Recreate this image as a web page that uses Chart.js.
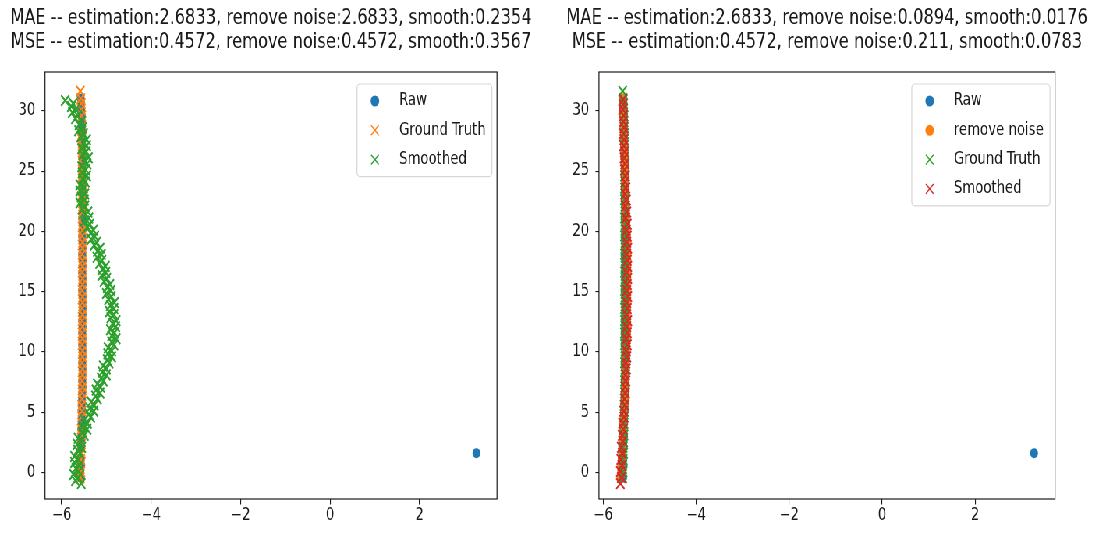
<!DOCTYPE html>
<html>
<head>
<meta charset="utf-8">
<title>Trajectory smoothing</title>
<script src="https://cdn.jsdelivr.net/npm/chart.js@4.4.1/dist/chart.umd.min.js"></script>
<style>
    html, body { margin: 0; padding: 0; background: #fff; overflow: hidden; }
    /* the reference figure is squeezed horizontally, so draw wide and squeeze */
    #figure { position: absolute; left: 0; top: 0; width: 1403px; height: 533px;
              transform: scaleX(0.78); transform-origin: 0 0; }
    .panel { position: absolute; top: 0; height: 533px; }
</style>
</head>
<body>
<div id="figure">
    <div class="panel" style="left:0;width:701px"><canvas id="leftChart" width="701" height="533"></canvas></div>
    <div class="panel" style="left:701px;width:702px"><canvas id="rightChart" width="702" height="533"></canvas></div>
</div>
<script>
// Tick labels
const xTicks = [-6, -4, -2, 0, 2];
const yTicks = [0, 5, 10, 15, 20, 25, 30];

// Titles
const leftTitle = [
    'MAE -- estimation:2.6833, remove noise:2.6833, smooth:0.2354',
    'MSE -- estimation:0.4572, remove noise:0.4572, smooth:0.3567'
];
const rightTitle = [
    'MAE -- estimation:2.6833, remove noise:0.0894, smooth:0.0176',
    'MSE -- estimation:0.4572, remove noise:0.211, smooth:0.0783'
];

// Track positions (y) shared by ground truth, raw and denoised points
const trackY = [
    -0.42, 0.08, 0.61, 1.09, 1.62, 2.11, 2.58, 3.12, 3.61, 4.09,
    4.62, 5.1, 5.58, 6.11, 6.62, 7.09, 7.61, 8.1, 8.58, 9.12,
    9.6, 10.09, 10.62, 11.1, 11.58, 12.11, 12.6, 13.09, 13.62, 14.1,
    14.58, 15.11, 15.6, 16.09, 16.62, 17.1, 17.58, 18.11, 18.6, 19.09,
    19.62, 20.1, 20.58, 21.11, 21.6, 22.09, 22.62, 23.1, 23.58, 24.11,
    24.6, 25.09, 25.62, 26.1, 26.58, 27.11, 27.6, 28.09, 28.62, 29.1,
    29.58, 30.11, 30.6, 31.0, 31.62
];
const gtX = [
    -5.58, -5.57, -5.58, -5.57, -5.56, -5.57, -5.56, -5.55, -5.56, -5.55,
    -5.55, -5.54, -5.55, -5.54, -5.54, -5.53, -5.54, -5.53, -5.53, -5.54,
    -5.53, -5.53, -5.54, -5.53, -5.54, -5.53, -5.54, -5.53, -5.54, -5.53,
    -5.53, -5.54, -5.53, -5.53, -5.54, -5.53, -5.53, -5.54, -5.53, -5.53,
    -5.54, -5.53, -5.53, -5.54, -5.53, -5.53, -5.54, -5.53, -5.54, -5.53,
    -5.54, -5.54, -5.53, -5.54, -5.54, -5.54, -5.55, -5.54, -5.55, -5.55,
    -5.55, -5.56, -5.56, -5.57, -5.58
];
const rawX = [
    -5.57, -5.58, -5.56, -5.57, 3.27, -5.56, -5.56, -5.55, -5.56, -5.55,
    -5.55, -5.54, -5.55, -5.54, -5.54, -5.53, -5.54, -5.53, -5.53, -5.54,
    -5.53, -5.53, -5.54, -5.53, -5.54, -5.53, -5.54, -5.53, -5.52, -5.53,
    -5.53, -5.54, -5.53, -5.53, -5.54, -5.53, -5.53, -5.54, -5.53, -5.53,
    -5.54, -5.53, -5.53, -5.54, -5.53, -5.53, -5.54, -5.53, -5.54, -5.53,
    -5.54, -5.54, -5.53, -5.54, -5.54, -5.54, -5.55, -5.54, -5.55, -5.55,
    -5.55, -5.56, -5.56, -5.57
];
const denoiseX = [
    -5.62, -5.61, -5.61, -5.60, -5.60, -5.59, -5.59, -5.58, -5.57, -5.57,
    -5.56, -5.55, -5.54, -5.54, -5.53, -5.53, -5.52, -5.52, -5.51, -5.51,
    -5.50, -5.50, -5.50, -5.49, -5.49, -5.49, -5.49, -5.49, -5.49, -5.49,
    -5.49, -5.49, -5.49, -5.48, -5.48, -5.48, -5.48, -5.48, -5.49, -5.49,
    -5.49, -5.49, -5.50, -5.50, -5.51, -5.51, -5.52, -5.52, -5.53, -5.53,
    -5.53, -5.54, -5.54, -5.55, -5.55, -5.55, -5.56, -5.56, -5.56, -5.56,
    -5.57, -5.57, -5.57, -5.58
];

// Smoothed track, left panel (denser sampling)
const smoothLeftY = [
    -0.9, -0.65, -0.4, -0.15, 0.1, 0.35, 0.6, 0.85, 1.1, 1.35,
    1.6, 1.85, 2.1, 2.35, 2.6, 2.85, 3.1, 3.35, 3.6, 3.85,
    4.1, 4.35, 4.6, 4.85, 5.1, 5.35, 5.6, 5.85, 6.1, 6.35,
    6.6, 6.85, 7.1, 7.35, 7.6, 7.85, 8.1, 8.35, 8.6, 8.85,
    9.1, 9.35, 9.6, 9.85, 10.1, 10.35, 10.6, 10.85, 11.1, 11.35,
    11.6, 11.85, 12.1, 12.35, 12.6, 12.85, 13.1, 13.35, 13.6, 13.85,
    14.1, 14.35, 14.6, 14.85, 15.1, 15.35, 15.6, 15.85, 16.1, 16.35,
    16.6, 16.85, 17.1, 17.35, 17.6, 17.85, 18.1, 18.35, 18.6, 18.85,
    19.1, 19.35, 19.6, 19.85, 20.1, 20.35, 20.6, 20.85, 21.1, 21.35,
    21.6, 21.85, 22.1, 22.35, 22.6, 22.85, 23.1, 23.35, 23.6, 23.85,
    24.1, 24.35, 24.6, 24.85, 25.1, 25.35, 25.6, 25.85, 26.1, 26.35,
    26.6, 26.85, 27.1, 27.35, 27.6, 27.85, 28.1, 28.35, 28.6, 28.85,
    29.1, 29.35, 29.6, 29.85, 30.1, 30.35, 30.6, 30.85
];
const smoothLeftX = [
    -5.56, -5.69, -5.63, -5.73, -5.62, -5.68, -5.60, -5.71, -5.63, -5.71,
    -5.59, -5.64, -5.55, -5.65, -5.56, -5.63, -5.49, -5.53, -5.43, -5.52,
    -5.42, -5.49, -5.35, -5.39, -5.28, -5.37, -5.27, -5.34, -5.20, -5.24,
    -5.14, -5.23, -5.13, -5.20, -5.07, -5.11, -5.00, -5.09, -5.00, -5.07,
    -4.94, -4.98, -4.88, -4.97, -4.88, -4.96, -4.83, -4.88, -4.78, -4.88,
    -4.82, -4.91, -4.79, -4.86, -4.78, -4.90, -4.83, -4.93, -4.83, -4.91,
    -4.82, -4.95, -4.89, -5.00, -4.90, -4.98, -4.92, -5.05, -4.99, -5.10,
    -5.01, -5.09, -5.02, -5.15, -5.10, -5.21, -5.11, -5.20, -5.14, -5.27,
    -5.22, -5.34, -5.26, -5.35, -5.29, -5.42, -5.37, -5.48, -5.39, -5.47,
    -5.41, -5.54, -5.48, -5.59, -5.49, -5.56, -5.48, -5.59, -5.51, -5.59,
    -5.47, -5.53, -5.44, -5.54, -5.46, -5.55, -5.43, -5.49, -5.40, -5.52,
    -5.45, -5.55, -5.44, -5.51, -5.44, -5.57, -5.51, -5.62, -5.53, -5.61,
    -5.55, -5.69, -5.64, -5.76, -5.68, -5.78, -5.74, -5.92
];

// Smoothed track, right panel
const smoothRightY = [
    -0.9, -0.4, 0.1, 0.6, 1.1, 1.6, 2.1, 2.6, 3.1, 3.6,
    4.1, 4.6, 5.1, 5.6, 6.1, 6.6, 7.1, 7.6, 8.1, 8.6,
    9.1, 9.6, 10.1, 10.6, 11.1, 11.6, 12.1, 12.6, 13.1, 13.6,
    14.1, 14.6, 15.1, 15.6, 16.1, 16.6, 17.1, 17.6, 18.1, 18.6,
    19.1, 19.6, 20.1, 20.6, 21.1, 21.6, 22.1, 22.6, 23.1, 23.6,
    24.1, 24.6, 25.1, 25.6, 26.1, 26.6, 27.1, 27.6, 28.1, 28.6,
    29.1, 29.6, 30.1, 30.5, 30.9
];
const smoothRightX = [
    -5.63, -5.61, -5.63, -5.60, -5.62, -5.59, -5.61, -5.58, -5.59, -5.57,
    -5.58, -5.55, -5.56, -5.53, -5.54, -5.52, -5.53, -5.51, -5.52, -5.50,
    -5.51, -5.49, -5.50, -5.48, -5.50, -5.48, -5.49, -5.47, -5.49, -5.48,
    -5.49, -5.47, -5.49, -5.48, -5.47, -5.49, -5.47, -5.48, -5.49, -5.47,
    -5.49, -5.48, -5.50, -5.48, -5.51, -5.49, -5.52, -5.50, -5.53, -5.51,
    -5.53, -5.52, -5.54, -5.53, -5.55, -5.54, -5.56, -5.55, -5.57, -5.55,
    -5.57, -5.56, -5.58, -5.57, -5.57
];

// matplotlib default colours
const BLUE = '#1f77b4';
const ORANGE = '#ff7f0e';
const GREEN = '#2ca02c';
const RED = '#d62728';
const INK = '#1a1a1a';
const FONT = '"DejaVu Sans", "Liberation Sans", sans-serif';

Chart.defaults.font.family = FONT;

function toPoints(xs, ys) {
    return xs.map((x, i) => ({ x: x, y: ys[i] }));
}

// marker: 'o' (filled circle) or 'x'
function scatterSet(label, xs, ys, color, marker, order) {
    const cross = marker === 'x';
    return {
        label: label,
        data: toPoints(xs, ys),
        order: order,
        marker: marker,
        markerColor: color,
        pointStyle: cross ? 'crossRot' : 'circle',
        pointRadius: cross ? 7.5 : 5,
        pointHoverRadius: cross ? 7.5 : 5,
        pointBackgroundColor: color,
        pointBorderColor: color,
        pointBorderWidth: cross ? 2 : 0,
        showLine: false
    };
}

function drawMarker(ctx, marker, color, x, y) {
    ctx.beginPath();
    if (marker === 'x') {
        const d = 4.95;
        ctx.moveTo(x - d, y - d); ctx.lineTo(x + d, y + d);
        ctx.moveTo(x - d, y + d); ctx.lineTo(x + d, y - d);
        ctx.strokeStyle = color;
        ctx.lineWidth = 1.4;
        ctx.stroke();
    } else {
        ctx.arc(x, y, 5.5, 0, Math.PI * 2);
        ctx.fillStyle = color;
        ctx.fill();
    }
}

// Axes frame, two-line title and matplotlib-like legend
const figurePlugin = {
    id: 'figureDecor',
    afterDraw(chart, args, opts) {
        const ctx = chart.ctx;
        const a = chart.chartArea;
        ctx.save();

        // frame
        ctx.strokeStyle = INK;
        ctx.lineWidth = 1.2;
        ctx.strokeRect(a.left, a.top, a.right - a.left, a.bottom - a.top);

        // title
        ctx.fillStyle = INK;
        ctx.font = '20.8px ' + FONT;
        ctx.textAlign = 'center';
        ctx.textBaseline = 'middle';
        const cx = (a.left + a.right) / 2;
        opts.title.forEach((line, i) => ctx.fillText(line, cx, 19 + i * 24));

        // legend
        const sets = chart.data.datasets;
        ctx.font = '17px ' + FONT;
        ctx.textAlign = 'left';
        const textW = Math.max(...sets.map(d => ctx.measureText(d.label).width));
        const rowH = 29.3;
        const boxW = textW + 62;
        const boxH = (sets.length - 1) * rowH + 34;
        const bx = a.right - 6.5 - boxW;
        const by = a.top + 12;
        ctx.beginPath();
        ctx.roundRect(bx, by, boxW, boxH, 4);
        ctx.fillStyle = 'rgba(255,255,255,0.8)';
        ctx.fill();
        ctx.strokeStyle = 'rgba(204,204,204,0.8)';
        ctx.lineWidth = 1.2;
        ctx.stroke();
        sets.forEach((d, i) => {
            const ry = by + 17 + i * rowH;
            drawMarker(ctx, d.marker, d.markerColor, bx + 23, ry);
            ctx.fillStyle = INK;
            ctx.fillText(d.label, bx + 54, ry);
        });
        ctx.restore();
    }
};

function minusLabel(v) {
    return v < 0 ? '\u2212' + Math.abs(v) : String(v);
}

function buildOptions(title, xMin, xMax, yAxisWidth, rightPad) {
    return {
        responsive: false,
        animation: false,
        events: [],
        layout: { padding: { left: 0, right: rightPad, top: 72, bottom: 0 } },
        plugins: {
            legend: { display: false },
            tooltip: { enabled: false },
            title: { display: false },
            figureDecor: { title: title }
        },
        scales: {
            x: {
                type: 'linear',
                min: xMin,
                max: xMax,
                border: { display: false },
                grid: { drawOnChartArea: false, drawTicks: true, tickLength: 5.5, color: INK, lineWidth: 1.1 },
                ticks: { color: INK, font: { size: 17 }, padding: 1, maxRotation: 0,
                         callback: v => minusLabel(v) },
                afterBuildTicks: s => { s.ticks = xTicks.map(v => ({ value: v })); },
                afterFit: s => { s.height = 34; }
            },
            y: {
                type: 'linear',
                min: -2.18,
                max: 33.21,
                border: { display: false },
                grid: { drawOnChartArea: false, drawTicks: true, tickLength: 4.5, color: INK, lineWidth: 1.1 },
                ticks: { color: INK, font: { size: 17 }, padding: 8,
                         callback: v => minusLabel(v) },
                afterBuildTicks: s => { s.ticks = yTicks.map(v => ({ value: v })); },
                afterFit: s => { s.width = yAxisWidth; }
            }
        }
    };
}

// Left: raw vs ground truth vs smoothed
new Chart(document.getElementById('leftChart'), {
    type: 'scatter',
    data: {
        datasets: [
            scatterSet('Raw', rawX, trackY, BLUE, 'o', 3),
            scatterSet('Ground Truth', gtX, trackY, ORANGE, 'x', 2),
            scatterSet('Smoothed', smoothLeftX, smoothLeftY, GREEN, 'x', 1)
        ]
    },
    options: buildOptions(leftTitle, -6.37, 3.73, 57.7, 63.8),
    plugins: [figurePlugin]
});

// Right: with noise removal
new Chart(document.getElementById('rightChart'), {
    type: 'scatter',
    data: {
        datasets: [
            scatterSet('Raw', rawX, trackY, BLUE, 'o', 4),
            scatterSet('remove noise', denoiseX, trackY, ORANGE, 'o', 3),
            scatterSet('Ground Truth', gtX, trackY, GREEN, 'x', 2),
            scatterSet('Smoothed', smoothRightX, smoothRightY, RED, 'x', 1)
        ]
    },
    options: buildOptions(rightTitle, -6.09, 3.72, 66.9, 50.4),
    plugins: [figurePlugin]
});
</script>
</body>
</html>
